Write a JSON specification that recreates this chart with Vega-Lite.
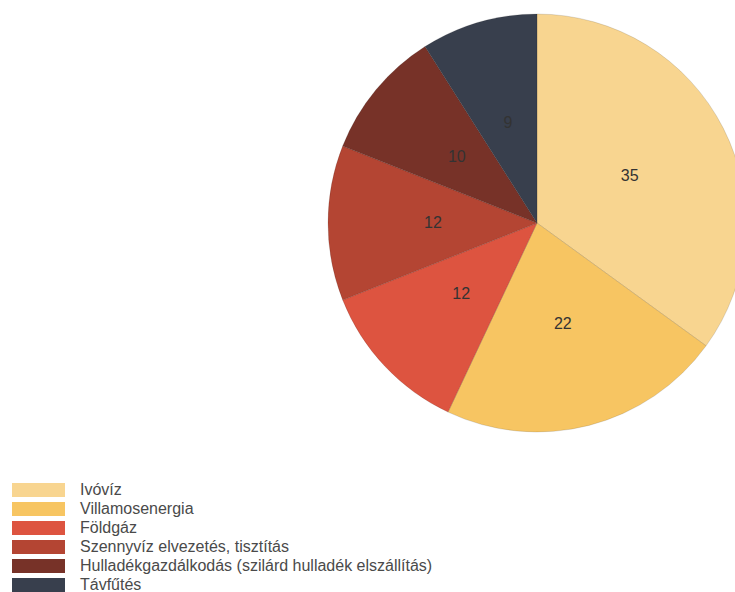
{
  "$schema": "https://vega.github.io/schema/vega-lite/v6.json",
  "autosize": "none",
  "padding": {"left": 339, "top": 14, "right": 0, "bottom": 160},
  "width": 396,
  "height": 418,
  "background": "#ffffff",
  "config": {"view": {"stroke": null}},
  "data": {
    "values": [
      {"kategoria": "Ivóvíz", "ertek": 35, "sorrend": 1},
      {"kategoria": "Villamosenergia", "ertek": 22, "sorrend": 2},
      {"kategoria": "Földgáz", "ertek": 12, "sorrend": 3},
      {"kategoria": "Szennyvíz elvezetés, tisztítás", "ertek": 12, "sorrend": 4},
      {"kategoria": "Hulladékgazdálkodás (szilárd hulladék elszállítás)", "ertek": 10, "sorrend": 5},
      {"kategoria": "Távfűtés", "ertek": 9, "sorrend": 6}
    ]
  },
  "encoding": {
    "theta": {"field": "ertek", "type": "quantitative", "stack": true},
    "order": {"field": "sorrend", "type": "quantitative", "sort": "ascending"}
  },
  "layer": [
    {
      "mark": {"type": "arc", "radius": 209, "stroke": "#000000", "strokeOpacity": 0.12, "strokeWidth": 1},
      "encoding": {
        "color": {
          "field": "kategoria",
          "type": "nominal",
          "sort": null,
          "scale": {
            "domain": ["Ivóvíz", "Villamosenergia", "Földgáz", "Szennyvíz elvezetés, tisztítás", "Hulladékgazdálkodás (szilárd hulladék elszállítás)", "Távfűtés"],
            "range": ["#f8d590", "#f7c562", "#dd5440", "#b44533", "#773228", "#383f4d"]
          },
          "legend": {
            "title": null,
            "orient": "none",
            "legendX": -328,
            "legendY": 468,
            "symbolType": "M-1,-1H6.571V1H-1Z",
            "symbolSize": 196,
            "symbolStrokeWidth": 0,
            "symbolOpacity": 1,
            "labelOffset": 53,
            "labelFont": "Liberation Sans",
            "labelFontSize": 16,
            "labelColor": "#4a4a4a",
            "labelLimit": 600,
            "rowPadding": 3
          }
        }
      }
    },
    {
      "mark": {"type": "text", "radius": 104, "font": "Liberation Sans", "fontSize": 16, "color": "#333333"},
      "encoding": {
        "text": {"field": "ertek", "type": "quantitative"}
      }
    }
  ]
}
